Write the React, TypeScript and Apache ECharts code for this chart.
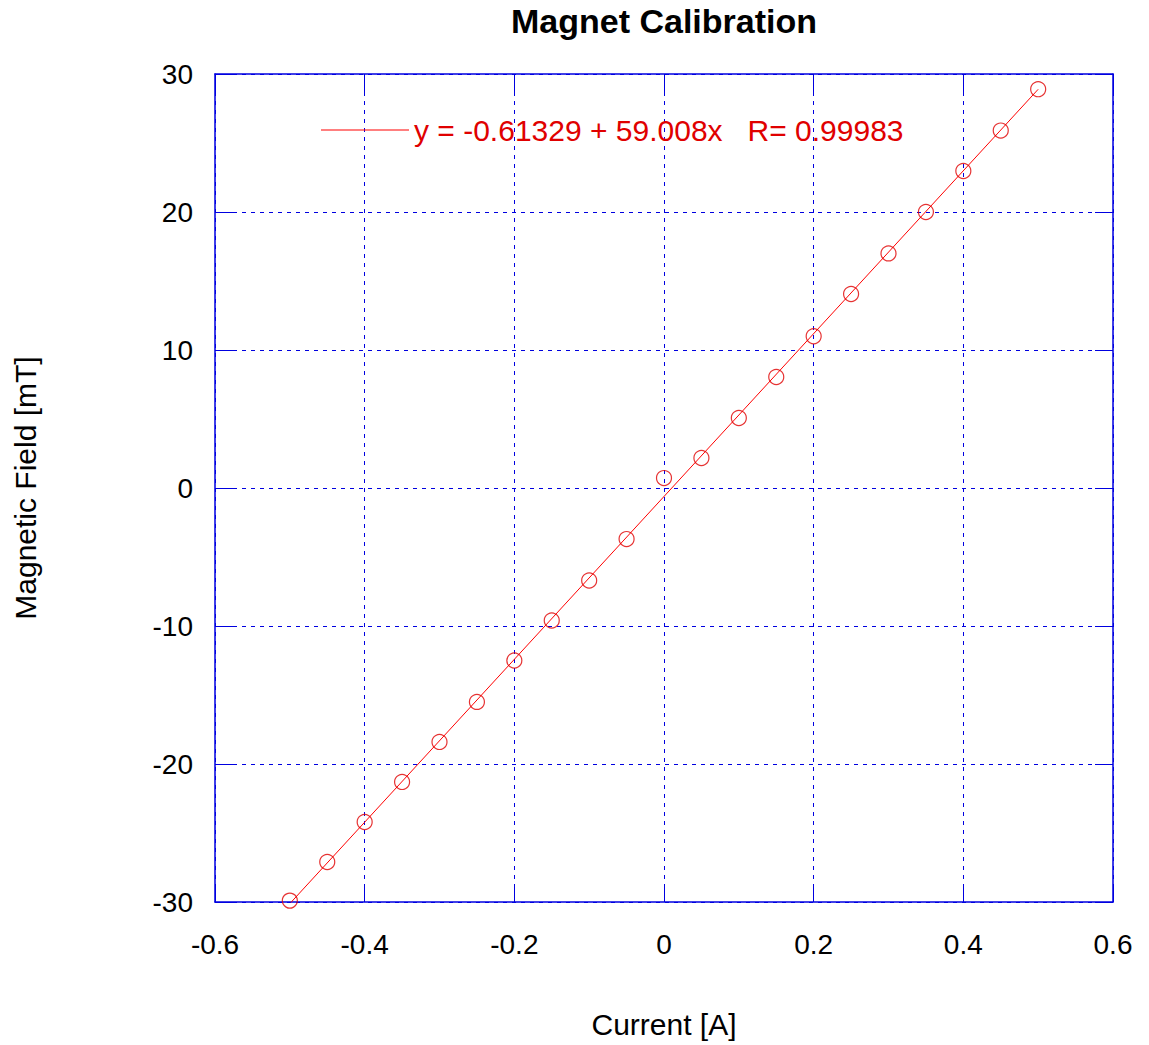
import React, { useEffect, useRef } from "react";
import * as echarts from "echarts";

// Measured calibration points: coil current [A] vs. field [mT]
const currents: number[] = [
  -0.5, -0.45, -0.4, -0.35, -0.3, -0.25, -0.2, -0.15, -0.1, -0.05, 0,
  0.05, 0.1, 0.15, 0.2, 0.25, 0.3, 0.35, 0.4, 0.45, 0.5,
];
const fields: number[] = [
  -29.9, -27.1, -24.2, -21.3, -18.4, -15.5, -12.5, -9.6, -6.7, -3.7, 0.72,
  2.17, 5.07, 8.04, 11.0, 14.06, 17.0, 20.0, 22.97, 25.9, 28.9,
];

// Linear fit result
const fitIntercept = -0.61329;
const fitSlope = 59.008;
const fitR = 0.99983;
const fitRange: number[] = [-0.5, 0.5];

const xTicks = { min: -0.6, max: 0.6, interval: 0.2 };
const yTicks = { min: -30, max: 30, interval: 10 };

const BLUE = "#0000e0";
const RED = "#e00000";
const FONT = "'Liberation Sans', Arial, Helvetica, sans-serif";

export default function App() {
  const ref = useRef<HTMLDivElement>(null);

  useEffect(() => {
    if (!ref.current) return;
    const chart = echarts.init(ref.current, undefined, { renderer: "svg" });

    const fitLabel = `y = ${fitIntercept} + ${fitSlope.toFixed(3)}x   R= ${fitR}`;
    const fitData = fitRange.map((x) => [x, fitIntercept + fitSlope * x]);
    const points = currents.map((c, i) => [c, fields[i]]);

    const tickStyle = {
      show: true,
      inside: true,
      length: 18,
      lineStyle: { color: BLUE, width: 1 },
    };
    const lineStyle = { show: true, onZero: false, lineStyle: { color: BLUE, width: 1.5 } };
    const gridLine = { show: true, lineStyle: { color: BLUE, width: 1, type: [4, 5] } };
    const fmt = (v: number) => String(Math.round(v * 10) / 10);

    chart.setOption({
      animation: false,
      backgroundColor: "#ffffff",
      textStyle: { fontFamily: FONT },
      title: {
        text: "Magnet Calibration",
        left: 659,
        textAlign: "center",
        top: -1,
        textStyle: { fontFamily: FONT, fontSize: 34, fontWeight: "bold", color: "#000" },
      },
      legend: {
        left: 316,
        top: 110,
        itemWidth: 88,
        itemHeight: 1,
        itemGap: 8,
        data: [{ name: fitLabel, icon: "rect", itemStyle: { color: "#ff0000" } }],
        textStyle: { fontFamily: FONT, fontSize: 30, color: RED, padding: [0, 0, 0, 0] },
      },
      grid: { left: 215, right: 36, top: 74, bottom: 143, containLabel: false },
      xAxis: [
        {
          type: "value",
          ...xTicks,
          position: "bottom",
          name: "Current [A]",
          nameLocation: "middle",
          nameGap: 107,
          nameTextStyle: { fontFamily: FONT, fontSize: 30, color: "#000" },
          axisLine: lineStyle,
          axisTick: tickStyle,
          splitLine: gridLine,
          axisLabel: { fontFamily: FONT, fontSize: 28, color: "#000", margin: 28, formatter: fmt },
        },
        {
          type: "value",
          ...xTicks,
          position: "top",
          axisLine: lineStyle,
          axisTick: tickStyle,
          splitLine: { show: false },
          axisLabel: { show: false },
        },
      ],
      yAxis: [
        {
          type: "value",
          ...yTicks,
          position: "left",
          name: "Magnetic Field [mT]",
          nameLocation: "middle",
          nameGap: 175,
          nameTextStyle: { fontFamily: FONT, fontSize: 30, color: "#000" },
          axisLine: lineStyle,
          axisTick: tickStyle,
          splitLine: gridLine,
          axisLabel: { fontFamily: FONT, fontSize: 28, color: "#000", margin: 22 },
        },
        {
          type: "value",
          ...yTicks,
          position: "right",
          axisLine: lineStyle,
          axisTick: tickStyle,
          splitLine: { show: false },
          axisLabel: { show: false },
        },
      ],
      series: [
        {
          name: fitLabel,
          type: "line",
          xAxisIndex: 0,
          yAxisIndex: 0,
          data: fitData,
          symbol: "none",
          showSymbol: false,
          clip: true,
          lineStyle: { color: "#ff0000", width: 1 },
          itemStyle: { color: "#ff0000" },
          z: 3,
        },
        {
          name: "data",
          type: "scatter",
          xAxisIndex: 0,
          yAxisIndex: 0,
          data: points,
          symbol: "circle",
          symbolSize: 15,
          itemStyle: { color: "rgba(0,0,0,0)", borderColor: RED, borderWidth: 1.2 },
          z: 4,
        },
      ],
    });

    return () => chart.dispose();
  }, []);

  return (
    <div
      ref={ref}
      style={{ position: "fixed", left: 0, top: 0, width: 1149, height: 1045 }}
    />
  );
}
